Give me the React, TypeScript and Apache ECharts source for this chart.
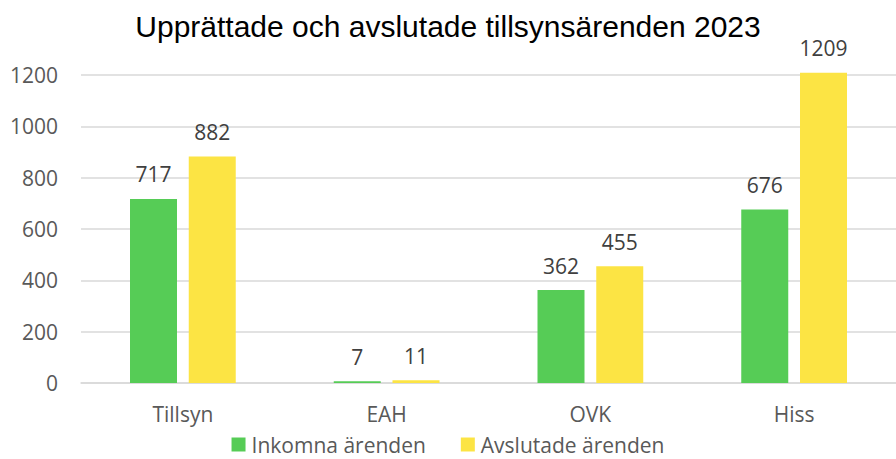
import React, { useEffect, useRef } from "react";
import * as echarts from "echarts";

const categories = ["Tillsyn", "EAH", "OVK", "Hiss"];
const inkomna = [717, 7, 362, 676];
const avslutade = [882, 11, 455, 1209];
const seriesNames = ["Inkomna ärenden", "Avslutade ärenden"];

export default function App() {
  const ref = useRef<HTMLDivElement>(null);
  useEffect(() => {
    const chart = echarts.init(ref.current!, null, { renderer: "svg" });
    const font = "'Liberation Sans', Arial, sans-serif";
    const labelFont = "'Open Sans', 'Noto Sans', sans-serif";
    chart.setOption({
      animation: false,
      title: {
        text: "Upprättade och avslutade tillsynsärenden 2023",
        left: "center",
        top: 6,
        textStyle: { fontFamily: font, fontSize: 30, fontWeight: "normal", color: "#000" },
      },
      legend: {
        top: 434,
        left: "center",
        padding: 0,
        itemWidth: 14,
        itemHeight: 14,
        itemGap: 35,
        icon: "rect",
        textStyle: { fontFamily: labelFont, fontSize: 21, lineHeight: 20, color: "#595959", padding: [0, 0, 0, 1] },
        data: seriesNames,
      },
      grid: { left: 81, right: 0, top: 75, bottom: 76 },
      xAxis: {
        type: "category",
        data: categories,
        axisLine: { lineStyle: { color: "#d9d9d9", width: 1.5 } },
        axisTick: { show: false },
        axisLabel: { fontFamily: labelFont, fontSize: 21, color: "#595959", margin: 20 },
      },
      yAxis: {
        type: "value",
        min: 0,
        max: 1200,
        interval: 200,
        axisLine: { show: false },
        axisTick: { show: false },
        splitLine: { lineStyle: { color: "#d9d9d9", width: 1.5 } },
        axisLabel: {
          fontFamily: labelFont,
          fontSize: 21,
          color: "#595959",
          margin: 23,
          formatter: (v: number) => String(v),
        },
      },
      series: [
        {
          name: seriesNames[0],
          type: "bar",
          data: inkomna,
          barWidth: 47,
          barGap: "25%",
          clip: false,
          itemStyle: { color: "#56CC56" },
          label: { show: true, position: "top", distance: 14, fontFamily: labelFont, fontSize: 21, color: "#404040" },
        },
        {
          name: seriesNames[1],
          type: "bar",
          data: avslutade,
          barWidth: 47,
          clip: false,
          itemStyle: { color: "#FCE444" },
          label: { show: true, position: "top", distance: 14, fontFamily: labelFont, fontSize: 21, color: "#404040" },
        },
      ],
    });
    return () => chart.dispose();
  }, []);
  return <div ref={ref} style={{ width: 896, height: 459, position: "absolute", left: 0, top: 0 }} />;
}
